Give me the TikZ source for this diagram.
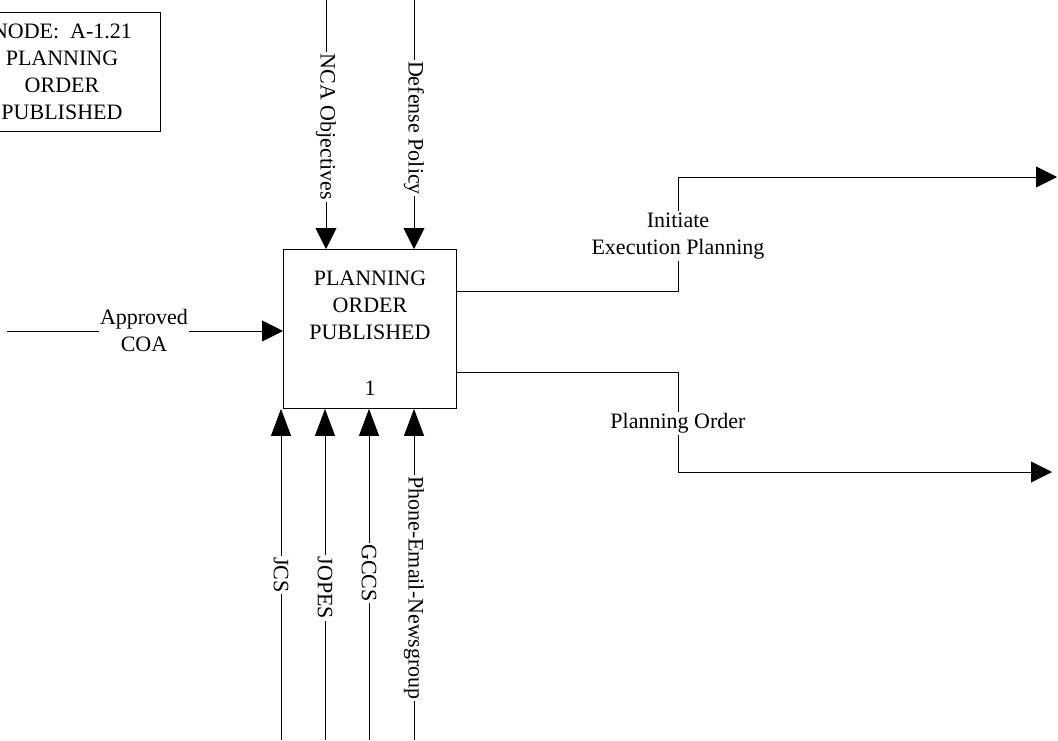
\documentclass[tikz,border=0pt]{standalone}
\usepackage{fontspec}
\setmainfont{Liberation Serif}
\usetikzlibrary{arrows.meta}
\begin{document}
\begin{tikzpicture}[x=1pt,y=1pt,
  every node/.style={font=\fontsize{22pt}{27pt}\selectfont},
  ln/.style={line width=0.9pt, draw=black},
  arr/.style={ln, -{Triangle[length=21pt,width=21pt]}},
  arrup/.style={ln, -{Triangle[length=27pt,width=20pt]}},
  lbl/.style={fill=white, inner sep=1.5pt, align=center},
  box/.style={draw, line width=0.9pt, inner sep=0pt}
]
\useasboundingbox (0,0) rectangle (1058,-740);
\fill[white] (0,0) rectangle (1058,-740);

% node title box (partly cut off at left)
\node[box, minimum width=196pt, minimum height=119pt, align=center] (title) at (62,-71.5)
  {NODE:\ \ A-1.21\\PLANNING\\ORDER\\PUBLISHED};

% main activity box
\node[box, minimum width=173pt, minimum height=159pt, anchor=north west] (act) at (283,-249) {};
\node[align=center, inner sep=0pt] (actname) at (370,-305) {PLANNING\\ORDER\\PUBLISHED};
\node[inner sep=0pt] (actnum) at (370,-388) {1};

% controls (top)
\coordinate (nca0) at (326,0);
\coordinate (def0) at (414,0);
\draw[arr] (nca0) -- (nca0 |- act.north);
\draw[arr] (def0) -- (def0 |- act.north);
\node[lbl, rotate=-90] (ncaL) at (326,-127) {NCA Objectives};
\node[lbl, rotate=-90] (defL) at (414,-128) {Defense Policy};

% input (left)
\coordinate (coa0) at (7,-331);
\draw[arr] (coa0) -- (coa0 -| act.west);
\node[lbl] (coaL) at (144,-330) {Approved\\COA};

% mechanisms (bottom)
\coordinate (jcs0) at (281,-740);
\coordinate (jop0) at (325,-740);
\coordinate (gcc0) at (369,-740);
\coordinate (pho0) at (414,-740);
\draw[arrup] (jcs0) -- (jcs0 |- act.south);
\draw[arrup] (jop0) -- (jop0 |- act.south);
\draw[arrup] (gcc0) -- (gcc0 |- act.south);
\draw[arrup] (pho0) -- (pho0 |- act.south);
\node[lbl, rotate=-90] (jcsL) at (281,-575) {JCS};
\node[lbl, rotate=-90] (jopL) at (325,-588) {JOPES};
\node[lbl, rotate=-90] (gccL) at (369,-573) {GCCS};
\node[lbl, rotate=-90] (phoL) at (414,-588) {Phone-Email-Newsgroup};

% outputs (right)
\coordinate (o1a) at (678,-291);
\coordinate (o1b) at (678,-177);
\coordinate (o1end) at (1057,-177);
\draw[arr] (act.east |- o1a) -- (o1a) -- (o1b) -- (o1end);
\node[lbl] (o1L) at (678,-236) {Initiate\\Execution Planning};

\coordinate (o2a) at (678,-372);
\coordinate (o2b) at (678,-472);
\coordinate (o2end) at (1052,-472);
\draw[arr] (act.east |- o2a) -- (o2a) -- (o2b) -- (o2end);
\node[lbl] (o2L) at (678,-423) {Planning Order};
\end{tikzpicture}
\end{document}
